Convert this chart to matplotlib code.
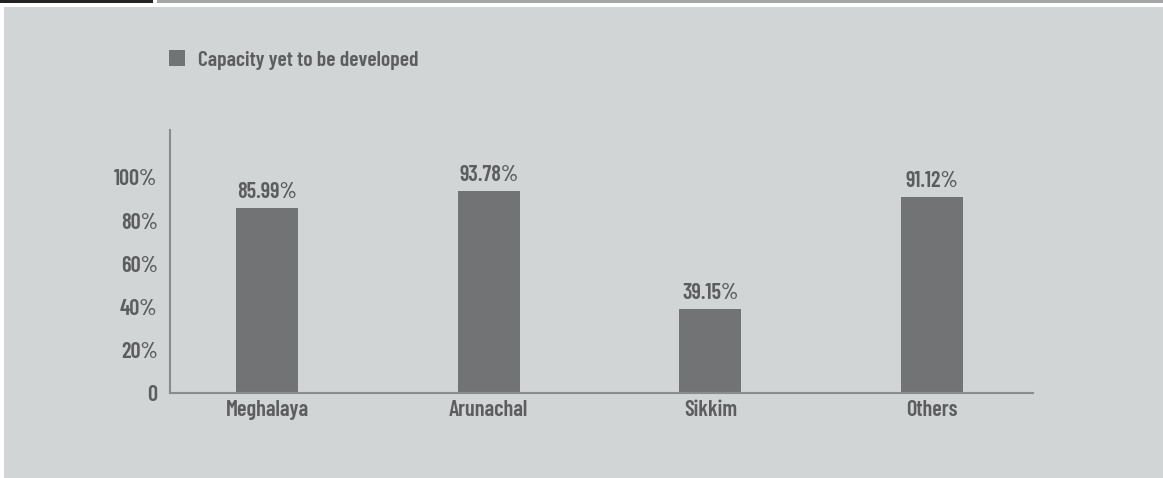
import matplotlib
matplotlib.use("Agg")
import matplotlib.pyplot as plt
from matplotlib.patches import Rectangle

categories = ["Meghalaya", "Arunachal", "Sikkim", "Others"]
values = [85.99, 93.78, 39.15, 91.12]
ytick_values = [0, 20, 40, 60, 80, 100]
ytick_labels = ["0", "20%", "40%", "60%", "80%", "100%"]
legend_label = "Capacity yet to be developed"

BG = "#d1d5d6"
BAR = "#727374"
TXT = "#5c5d5f"
SPINE = "#8a8b8d"
FONT = ["Barlow Condensed", "DejaVu Sans"]

W, H = 1163, 478
fig = plt.figure(figsize=(W / 100, H / 100), dpi=100, facecolor="white")

# panel background and top strip
fig.add_artist(Rectangle((4 / W, 0), 1 - 4 / W, (H - 7) / H, transform=fig.transFigure,
                         facecolor=BG, edgecolor="none", zorder=0))
fig.add_artist(Rectangle((0, (H - 3) / H), 153 / W, 3 / H, transform=fig.transFigure,
                         facecolor="#222222", edgecolor="none", zorder=0))
fig.add_artist(Rectangle((157 / W, (H - 3) / H), 1 - 157 / W, 3 / H, transform=fig.transFigure,
                         facecolor="#a5a6a8", edgecolor="none", zorder=0))

left, right = 170 / W, 1033 / W
bottom, top = (H - 393) / H, (H - 130) / H
ax = fig.add_axes([left, bottom, right - left, top - bottom])
ax.set_facecolor("none")

x = list(range(len(categories)))
bars = ax.bar(x, values, width=0.28, color=BAR, label=legend_label, zorder=2)
ax.bar_label(bars, labels=[f"{v:.2f}%" for v in values], padding=4,
             color=TXT, fontsize=16, fontweight=600, family=FONT)

ax.set_xlim(-0.438, 3.456)
ax.set_ylim(0, 122)
ax.set_xticks(x)
ax.set_xticklabels(categories, family=FONT, fontweight=600, fontsize=16, color=TXT)
ax.set_yticks(ytick_values)
ax.set_yticklabels(ytick_labels, family=FONT, fontweight=600, fontsize=16, color=TXT)
ax.tick_params(axis="both", length=0)
ax.tick_params(axis="y", pad=9)
ax.tick_params(axis="x", pad=5)

for s in ["top", "right"]:
    ax.spines[s].set_visible(False)
for s in ["left", "bottom"]:
    ax.spines[s].set_color(SPINE)
    ax.spines[s].set_linewidth(1.5)

leg = fig.legend(handles=[bars], labels=[legend_label], loc="center left",
                 bbox_to_anchor=(169 / W, (H - 60) / H), frameon=False, borderpad=0,
                 borderaxespad=0, handlelength=0.74, handleheight=0.74, handletextpad=0.6,
                 prop={"family": FONT, "weight": 600, "size": 15.5})
for t in leg.get_texts():
    t.set_color(TXT)

fig.savefig("out.png", dpi=100, facecolor="white")
